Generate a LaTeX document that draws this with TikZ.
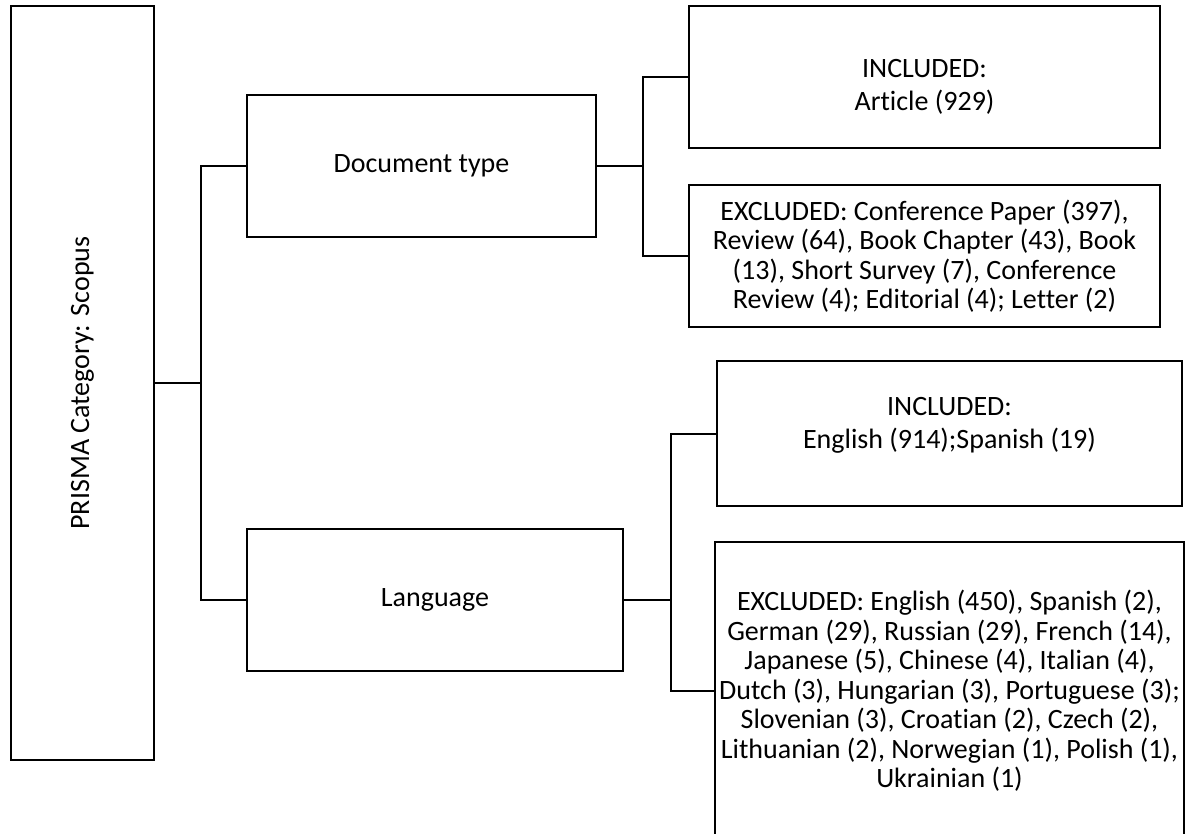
\documentclass[tikz,border=0pt]{standalone}
\usepackage{fontspec}
\setmainfont{Carlito}[Ligatures=NoCommon]
\usepackage{tikz}

\tikzset{
    box/.style={draw, line width=1pt, align=center, inner sep=2pt},
    txt/.style={align=center, inner sep=0pt},
    link/.style={line width=1pt},
}

\begin{document}
\begin{tikzpicture}[x=0.5pt,y=-0.5pt,font=\fontsize{14}{14.75}\selectfont]
    \useasboundingbox (0,0) rectangle (1193,834);
    % left category box
    \node[box, minimum width=71.5pt, minimum height=377pt] (prisma) at (82.5,383) {\rotatebox{90}{PRISMA Category: Scopus}};
    % middle boxes
    \node[box, minimum width=174.5pt, minimum height=71pt] (doctype) at (421.5,166) {Document type};
    \node[box, minimum width=188pt, minimum height=71pt] (lang) at (435,600) {Language};
    % right boxes
    \node[box, minimum width=235.5pt, minimum height=71pt] (inc1) at (924.5,77) {};
    \node[txt] (inc1txt) at ([yshift=-5pt]inc1.center) {INCLUDED:\\[1.5pt]Article (929)};
    \node[box, minimum width=235.5pt, minimum height=71pt] (exc1) at (924.5,256)
        {EXCLUDED: Conference Paper (397),\\Review (64), Book Chapter (43), Book\\(13), Short Survey (7), Conference\\Review (4); Editorial (4); Letter (2)};
    \node[box, minimum width=232.5pt, minimum height=72.5pt] (inc2) at (949.5,433.5) {};
    \node[txt] (inc2txt) at ([yshift=4pt]inc2.center) {INCLUDED:\\[1.5pt]English (914);Spanish (19)};
    \node[box, minimum width=232.5pt, minimum height=149pt] (exc2) at (949.5,691)
        {EXCLUDED: English (450), Spanish (2),\\German (29), Russian (29), French (14),\\Japanese (5), Chinese (4), Italian (4),\\Dutch (3), Hungarian (3), Portuguese (3);\\Slovenian (3), Croatian (2), Czech (2),\\Lithuanian (2), Norwegian (1), Polish (1),\\Ukrainian (1)};
    % connectors
    \coordinate (j1) at (201,383);
    \coordinate (j2) at (643,166);
    \coordinate (j3) at (671,600);
    \draw[link] (prisma.east) -- (j1);
    \draw[link] (doctype.west) -| (j1) |- (lang.west);
    \draw[link] (doctype.east) -- (j2);
    \draw[link] (inc1.west) -| (j2) |- (exc1.west);
    \draw[link] (lang.east) -- (j3);
    \draw[link] (inc2.west) -| (j3) |- (exc2.west);
\end{tikzpicture}
\end{document}
